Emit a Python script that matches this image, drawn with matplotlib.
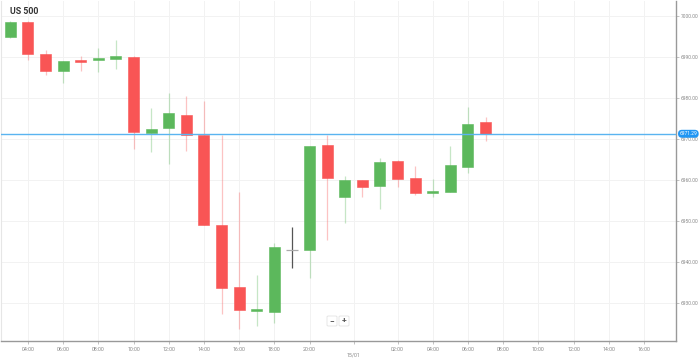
import matplotlib
matplotlib.use("Agg")
import matplotlib.pyplot as plt
from matplotlib.patches import FancyBboxPatch

plt.rcParams['font.family'] = ['Roboto', 'DejaVu Sans']

# hourly candles, 03:00 on 14/01 -> 06:00 on 15/01 (one hour gap overnight)
opens  = [6995.0, 6998.6, 6990.7, 6986.6, 6989.3, 6989.3, 6989.5, 6990.0, 6971.5, 6972.7,
          6975.9, 6971.0, 6949.0, 6933.8, 6928.0, 6927.7, 6942.9, 6942.9, 6968.6, 6955.9,
          6959.9, 6958.5, 6964.6, 6960.5, 6956.8, 6957.0, 6963.2, 6974.1]
highs  = [6998.9, 6998.8, 6991.8, 6989.1, 6990.2, 6992.3, 6994.1, 6990.2, 6977.6, 6981.2,
          6980.6, 6979.3, 6971.0, 6957.0, 6936.8, 6944.6, 6948.5, 6968.3, 6970.9, 6961.1,
          6960.0, 6965.4, 6964.8, 6963.3, 6960.2, 6968.3, 6977.8, 6975.4]
lows   = [6994.6, 6989.4, 6985.6, 6983.6, 6986.6, 6986.3, 6987.1, 6967.6, 6966.8, 6964.0,
          6967.2, 6949.0, 6927.3, 6923.6, 6924.4, 6925.0, 6938.5, 6936.2, 6945.4, 6949.6,
          6955.9, 6952.9, 6958.3, 6956.3, 6955.9, 6957.0, 6961.6, 6969.5]
closes = [6998.5, 6990.8, 6986.5, 6989.1, 6988.9, 6989.8, 6990.2, 6971.8, 6972.5, 6976.3,
          6970.9, 6949.0, 6933.6, 6928.2, 6928.5, 6943.6, 6942.9, 6968.3, 6960.5, 6960.1,
          6958.2, 6964.3, 6960.2, 6956.9, 6957.3, 6963.6, 6973.7, 6971.29]
last_price = 6971.29

tick_pos = [1, 3, 5, 7, 9, 11, 13, 15, 17, 19.5, 22, 24, 26, 28, 30, 32, 34, 36]
tick_labels = ['04:00', '06:00', '08:00', '10:00', '12:00', '14:00', '16:00', '18:00', '20:00',
               '15/01', '02:00', '04:00', '06:00', '08:00', '10:00', '12:00', '14:00', '16:00']
price_ticks = [6930, 6940, 6950, 6960, 6970, 6980, 6990, 7000]

GREEN = '#5cb85c'
RED = '#f95555'

fig = plt.figure(figsize=(6.99, 3.59), dpi=100)
ax = fig.add_axes([1/699, 18/359, 675/699, 340/359])

for i, (o, h, l, c) in enumerate(zip(opens, highs, lows, closes)):
    if o == c:
        ax.vlines(i, l, h, color='#555555', lw=0.9, zorder=3)
        ax.hlines(o, i - 0.32, i + 0.32, color='#aaaaaa', lw=0.9, zorder=3)
        continue
    col = GREEN if c > o else RED
    ax.vlines(i, l, h, color=col, lw=0.9, alpha=0.35, zorder=2)
    body = max(abs(c - o), 0.45)
    ax.bar(i, body, bottom=min(o, c), width=0.63, color=col,
           edgecolor=col, lw=0.4, zorder=3)

ax.axhline(last_price, color='#5ab4f0', lw=1.0, zorder=4)

ax.set_xlim(-0.53, 37.82)
ax.set_ylim(6920.7, 7003.7)

ax.set_xticks(tick_pos)
ax.set_xticklabels(tick_labels, fontsize=3.8, color='#888888')
ax.tick_params(axis='x', length=2, width=0.5, color='#aaaaaa', pad=2)
ax.xaxis.get_major_ticks()[tick_labels.index('15/01')].set_pad(6)

ax.yaxis.tick_right()
ax.set_yticks(price_ticks)
ax.set_yticklabels([f'{p:.2f}' for p in price_ticks], fontsize=3.5, color='#888888')
ax.tick_params(axis='y', length=2, width=0.5, color='#aaaaaa', pad=1.5)

ax.grid(True, color='#f2f2f2', lw=0.7)
ax.set_axisbelow(True)
for s in ['top']:
    ax.spines[s].set_visible(False)
ax.spines['left'].set_color('#e6e6e6')
ax.spines['right'].set_color('#999999')
ax.spines['bottom'].set_color('#999999')
ax.spines['right'].set_linewidth(1.0)
ax.spines['bottom'].set_linewidth(1.0)

# current price badge on the axis
ax.annotate(f'{last_price:.2f}', xy=(1.0, last_price), xycoords=('axes fraction', 'data'),
            xytext=(2.5, 0), textcoords='offset points', ha='left', va='center',
            fontsize=3.5, color='white', zorder=6, annotation_clip=False,
            bbox=dict(boxstyle='round,pad=0.3,rounding_size=0.8', fc='#2196f3', ec='none'))

fig.text(10/699, 1 - 12/359, 'US 500', fontsize=6.3, fontweight='bold', color='#333333', va='center')

# zoom buttons
for x0, lab in [(327, '\u2212'), (339, '+')]:
    fig.patches.append(FancyBboxPatch((x0/699, 1 - 326/359), 10/699, 10/359,
                                      boxstyle='round,pad=0,rounding_size=0.002',
                                      transform=fig.transFigure, fc='white', ec='#dddddd', lw=0.5))
    fig.text((x0 + 5)/699, 1 - 321/359, lab, fontsize=6, fontweight='bold', color='#555555',
             ha='center', va='center')

fig.savefig('out.png', dpi=100)
